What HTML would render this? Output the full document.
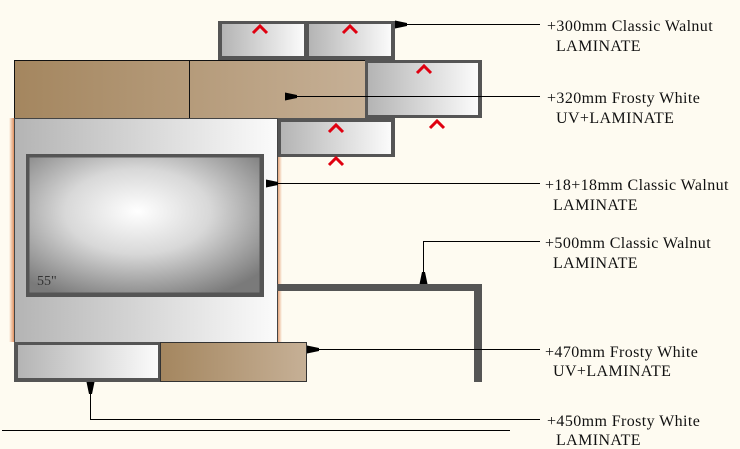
<!DOCTYPE html>
<html><head><style>
body{margin:0;background:#fefbf1;}
svg{display:block}
text{font-family:"Liberation Serif",serif;font-size:16px;fill:#111;letter-spacing:0.4px}
</style></head><body>
<svg width="740" height="449" viewBox="0 0 740 449" xmlns="http://www.w3.org/2000/svg">
<defs>
<linearGradient id="gw" x1="0" x2="1"><stop offset="0" stop-color="#b4b4b4"/><stop offset="1" stop-color="#fbfbfb"/></linearGradient>
<linearGradient id="wal" x1="0" x2="1"><stop offset="0" stop-color="#a4865f"/><stop offset="1" stop-color="#c6b096"/></linearGradient>
<radialGradient id="scr" cx="0.47" cy="0.4" r="0.7"><stop offset="0" stop-color="#fff"/><stop offset="0.45" stop-color="#d8d8d8"/><stop offset="1" stop-color="#7a7a7a"/></radialGradient>
<linearGradient id="glow" x1="0" x2="1"><stop offset="0" stop-color="#fefbf1"/><stop offset="1" stop-color="#e09060"/></linearGradient>
<linearGradient id="glow2" x1="1" x2="0"><stop offset="0" stop-color="#fefbf1"/><stop offset="1" stop-color="#e09060"/></linearGradient>
<marker id="ar" markerWidth="12" markerHeight="8" refX="12" refY="4" orient="auto" markerUnits="userSpaceOnUse"><path d="M0,2.5 L12,0 L12,8 L0,5.5 Z" fill="#000"/></marker>
</defs>
<rect x="9" y="118" width="5" height="224" fill="url(#glow)"/>
<rect x="277" y="157" width="5" height="185" fill="url(#glow2)"/>
<rect x="218" y="21" width="177" height="39" fill="#555"/>
<rect x="222" y="24" width="82" height="32" fill="url(#gw)"/>
<rect x="309" y="24" width="82" height="32" fill="url(#gw)"/>
<rect x="14.5" y="60.5" width="351" height="58" fill="url(#wal)" stroke="#111"/>
<line x1="189.5" y1="60" x2="189.5" y2="118" stroke="#111"/>
<rect x="365" y="60" width="117" height="58" fill="#555"/>
<rect x="368" y="63" width="110" height="52" fill="url(#gw)"/>
<rect x="14.5" y="118.5" width="263" height="224" fill="url(#gw)" stroke="#444" stroke-width="1"/>
<rect x="278" y="118" width="117" height="39" fill="#555"/>
<rect x="281" y="122" width="110" height="32" fill="url(#gw)"/>
<rect x="26" y="154" width="238" height="143" fill="#555"/>
<rect x="29.5" y="157.5" width="230" height="135" fill="url(#scr)"/>
<text x="37" y="285" style="font-size:14px;fill:#333;letter-spacing:0">55"</text>
<rect x="277" y="284" width="205" height="7" fill="#555"/>
<rect x="474" y="284" width="8" height="98" fill="#555"/>
<rect x="14" y="342" width="147" height="40" fill="#555"/>
<rect x="18" y="345" width="140" height="33" fill="url(#gw)"/>
<rect x="160.5" y="342.5" width="146" height="39" fill="url(#wal)" stroke="#333"/>
<g fill="none" stroke="#e00010" stroke-width="3">
<path d="M253,33 L260,26 L267,33"/><path d="M343,33 L350,26 L357,33"/>
<path d="M417,73 L424,66 L431,73"/><path d="M329,132 L336,125 L343,132"/>
<path d="M430,128 L437,121 L444,128"/><path d="M329,165 L336,158 L343,165"/>
</g>
<g stroke="#000" stroke-width="1" fill="none">
<line x1="540" y1="24.5" x2="395" y2="24.5" marker-end="url(#ar)"/>
<line x1="540" y1="96.5" x2="285" y2="96.5" marker-end="url(#ar)"/>
<line x1="540" y1="183.5" x2="266" y2="183.5" marker-end="url(#ar)"/>
<polyline points="540,241.5 423.5,241.5 423.5,284" marker-end="url(#ar)"/>
<line x1="540" y1="349.5" x2="307" y2="349.5" marker-end="url(#ar)"/>
<polyline points="540,419.5 90.5,419.5 90.5,382" marker-end="url(#ar)"/>
<line x1="2" y1="430.5" x2="510" y2="430.5"/>
</g>
<text x="547" y="31">+300mm Classic Walnut</text><text x="556" y="51">LAMINATE</text>
<text x="547" y="103">+320mm Frosty White</text><text x="556" y="123">UV+LAMINATE</text>
<text x="545" y="190">+18+18mm Classic Walnut</text><text x="553" y="210">LAMINATE</text>
<text x="545" y="248">+500mm Classic Walnut</text><text x="553" y="268">LAMINATE</text>
<text x="545" y="357">+470mm Frosty White</text><text x="553" y="376">UV+LAMINATE</text>
<text x="547" y="426">+450mm Frosty White</text><text x="556" y="445">LAMINATE</text>
</svg>
</body></html>
